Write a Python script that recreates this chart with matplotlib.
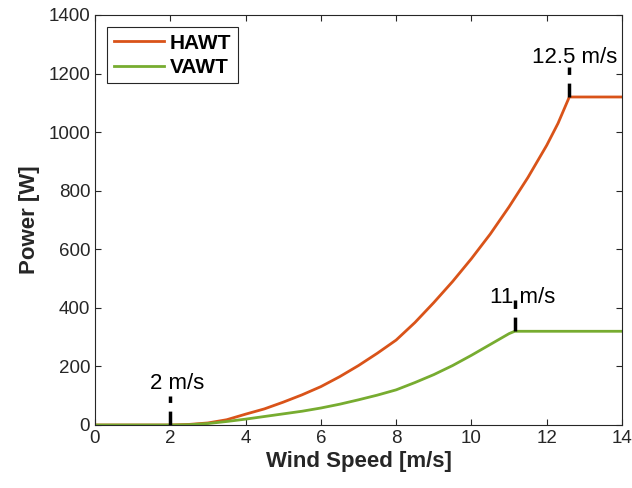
import matplotlib.pyplot as plt

plt.rcParams["font.family"] = ["Liberation Sans", "DejaVu Sans"]

# Power curves
hawt_speed = [0, 1, 2, 2.5, 3, 3.5, 4, 4.5, 5, 5.5, 6, 6.5, 7, 7.5, 8, 8.5, 9,
              9.5, 10, 10.5, 11, 11.5, 12, 12.3, 12.6, 13, 14]
hawt_power = [0, 0, 0, 2, 7, 18, 37, 55, 78, 103, 131, 165, 203, 245, 290, 350, 418,
              490, 568, 652, 745, 845, 955, 1030, 1120, 1120, 1120]
vawt_speed = [0, 1, 2, 2.5, 3, 3.5, 4, 4.5, 5, 5.5, 6, 6.5, 7, 7.5, 8, 8.5, 9,
              9.5, 10, 10.5, 11, 11.15, 12, 13, 14]
vawt_power = [0, 0, 0, 1, 5, 12, 20, 29, 38, 47, 58, 71, 86, 102, 120, 145, 172,
              203, 238, 275, 312, 320, 320, 320, 320]

# Cut-in / rated speed markers: (x, y_start, y_end, label, label_x, label_y)
markers = [
    (2.0, 0, 100, "2 m/s", 1.45, 140),
    (11.15, 320, 427, "11 m/s", 10.5, 437),
    (12.6, 1120, 1222, "12.5 m/s", 11.6, 1256),
]

text_color = "#262626"

fig = plt.figure(figsize=(6.32, 4.88), dpi=100)
ax = fig.add_axes([0.1503, 0.1291, 0.8339, 0.8402])

ax.plot(hawt_speed, hawt_power, color="#D95319", linewidth=2, label="HAWT")
ax.plot(vawt_speed, vawt_power, color="#77AC30", linewidth=2, label="VAWT")

for x, y0, y1, label, tx, ty in markers:
    ax.plot([x, x], [y0, y1], color="black", linewidth=2.5,
            linestyle=(0, (4, 2.5)), zorder=5)
    ax.text(tx, ty, label, fontsize=16, ha="left", va="center", color="black")

ax.set_xlim(0, 14)
ax.set_ylim(0, 1400)
ax.set_xticks(range(0, 15, 2))
ax.set_yticks(range(0, 1401, 200))
ax.tick_params(direction="in", top=True, right=True, length=4,
               labelsize=13.5, colors=text_color)
for spine in ax.spines.values():
    spine.set_color(text_color)
    spine.set_linewidth(0.8)

ax.set_xlabel("Wind Speed [m/s]", fontsize=16, fontweight="bold", color=text_color,
              labelpad=3)
ax.set_ylabel("Power [W]", fontsize=16, fontweight="bold", color=text_color,
              labelpad=6)

leg = ax.legend(loc="upper left", fancybox=False, framealpha=1,
                edgecolor=text_color, handlelength=2.4,
                prop={"size": 15, "weight": "bold"},
                borderaxespad=0.6, labelspacing=0.25, handletextpad=0.3,
                borderpad=0.3)
leg.get_frame().set_linewidth(0.8)

fig.savefig("out.png", dpi=100)
